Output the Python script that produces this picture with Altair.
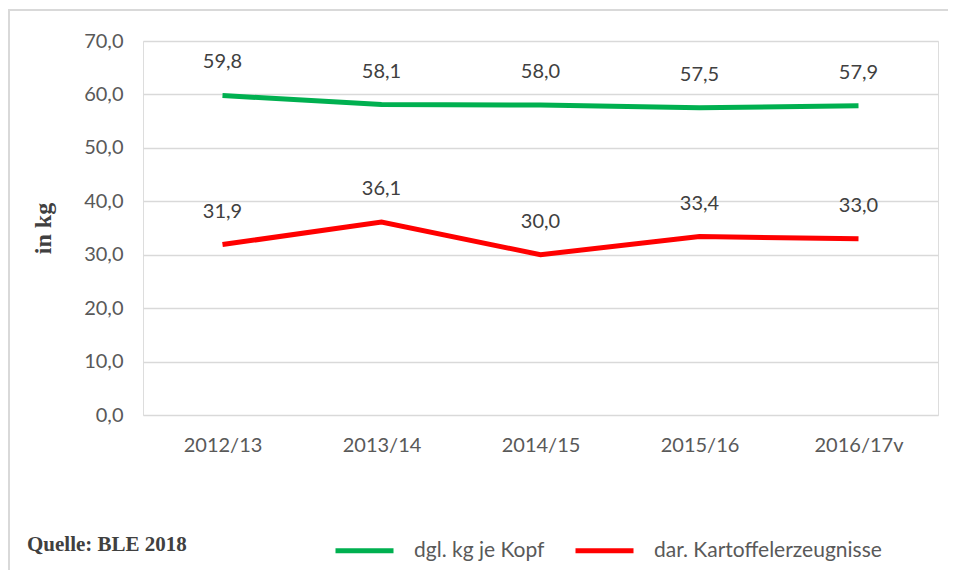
import altair as alt
import pandas as pd

years = ["2012/13", "2013/14", "2014/15", "2015/16", "2016/17v"]
series_names = ["dgl. kg je Kopf", "dar. Kartoffelerzeugnisse"]
total = [59.8, 58.1, 58.0, 57.5, 57.9]
potato = [31.9, 36.1, 30.0, 33.4, 33.0]
colors = ["#00B050", "#FF0000"]
y_ticks = [0, 10, 20, 30, 40, 50, 60, 70]

FONT = "Lato"

rows = []
for y, v in zip(years, total):
    rows.append({"Jahr": y, "Wert": v, "Reihe": series_names[0]})
for y, v in zip(years, potato):
    rows.append({"Jahr": y, "Wert": v, "Reihe": series_names[1]})
df = pd.DataFrame(rows)

base = alt.Chart(df)

x = alt.X("Jahr:N", sort=years, title=None,
          scale=alt.Scale(paddingInner=0, paddingOuter=0.5),
          axis=alt.Axis(labelAngle=0, ticks=False, domain=False, labelPadding=20,
                        labelFont=FONT, labelFontSize=20, labelColor="#595959",
                        grid=False))
y = alt.Y("Wert:Q", title="in kg",
          scale=alt.Scale(domain=[0, 70]),
          axis=alt.Axis(values=y_ticks, format=".1f", ticks=False, domain=False,
                        labelPadding=20, labelFont=FONT, labelFontSize=20,
                        labelColor="#595959", gridColor="#d9d9d9", gridWidth=1.5,
                        titleFont="Liberation Serif", titleFontSize=24, titleFontWeight="bold",
                        titleColor="#404040", titleAngle=270, titleX=-88, titleY=187))

color = alt.Color("Reihe:N", sort=series_names,
                  scale=alt.Scale(domain=series_names, range=colors),
                  legend=alt.Legend(title=None, orient="none", direction="horizontal",
                                    legendX=190, legendY=478, symbolType="stroke",
                                    symbolSize=3364, symbolStrokeWidth=5,
                                    labelFont=FONT, labelFontSize=21, labelLimit=0,
                                    labelColor="#595959", labelOffset=18,
                                    columnPadding=20))

lines = base.mark_line(strokeWidth=5).encode(x=x, y=y, color=color)

labels = base.mark_text(dy=-33, font=FONT, fontSize=20, color="#404040").encode(
    x=alt.X("Jahr:N", sort=years),
    y=alt.Y("Wert:Q"),
    text=alt.Text("Wert:Q", format=".1f"),
)

src = alt.Chart(pd.DataFrame({"t": ["Quelle: BLE 2018"]})).mark_text(
    align="left", baseline="middle", font="Liberation Serif", fontSize=21,
    fontWeight="bold", color="#404040"
).encode(text="t:N", x=alt.value(-116), y=alt.value(504))

border = alt.Chart(pd.DataFrame({"a": [0]})).mark_rect(
    fill=None, stroke="#d9d9d9", strokeWidth=2
).encode(x=alt.value(-134), x2=alt.value(900), y=alt.value(-31), y2=alt.value(600))

chart = alt.layer(border, lines, labels, src).properties(
    width=795, height=374,
    autosize=alt.AutoSizeParams(type="none"),
    padding={"left": 135, "top": 33, "right": 10, "bottom": 155},
).configure_view(stroke=None).configure(
    locale={"number": {"decimal": ",", "thousands": ".", "grouping": [3], "currency": ["", " €"]}}
)

chart.save("out.html", embed_options={"renderer": "svg", "actions": False})
